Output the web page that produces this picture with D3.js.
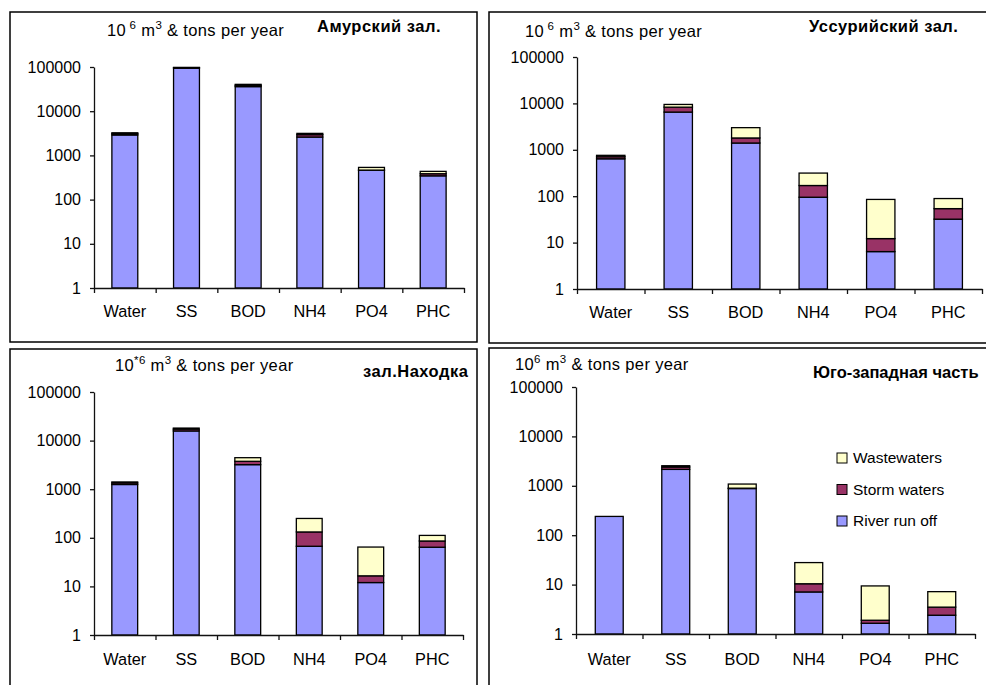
<!DOCTYPE html>
<html>
<head>
<meta charset="utf-8">
<script src="https://cdn.jsdelivr.net/npm/d3@7/dist/d3.min.js"></script>
<style>
  html, body { margin: 0; padding: 0; background: #fff; }
  svg { display: block; font-family: "Liberation Sans", Arial, sans-serif; }
</style>
</head>
<body>
<svg id="chart" width="986" height="685"></svg>
<script>
// Pollutant load categories and log-axis ticks
const categories = ["Water", "SS", "BOD", "NH4", "PO4", "PHC"];
const seriesNames = ["River run off", "Storm waters", "Wastewaters"];
const yTicks = [1, 10, 100, 1000, 10000, 100000];
const legendOrder = ["Wastewaters", "Storm waters", "River run off"];

// Амурский залив
const amurRiver = [2900, 94000, 36000, 2600, 460, 345];
const amurStorm = [200, 2500, 2500, 350, 5, 40];
const amurWaste = [150, 1500, 2000, 200, 70, 50];

// Уссурийский залив
const ussuriRiver = [640, 6500, 1400, 95, 6.4, 32];
const ussuriStorm = [70, 1800, 400, 75, 5.8, 22];
const ussuriWaste = [50, 1200, 1200, 145, 73, 35];

// залив Находка
const nakhodkaRiver = [1250, 15800, 3200, 67, 12, 64];
const nakhodkaStorm = [100, 1400, 550, 65, 4.5, 22];
const nakhodkaWaste = [60, 900, 700, 118, 48, 26];

// Юго-западная часть
const swRiver = [240, 2150, 880, 7.1, 1.65, 2.4];
const swStorm = [0, 250, 15, 3.3, 0.25, 1.1];
const swWaste = [0, 150, 190, 17.5, 7.5, 3.7];

const colors = {
  "River run off": "#9999ff",
  "Storm waters": "#993366",
  "Wastewaters": "#ffffcc"
};

const panels = [
  { name: "Амурский зал.", unit: ["10", " 6", " m", "3", " & tons per year"],
    river: amurRiver, storm: amurStorm, waste: amurWaste,
    frame: [10, 12, 467, 330], x0: 94, x1: 464, yTop: 67, yBot: 288,
    unitPos: [107, 36], namePos: [317, 32], labelY: 317 },
  { name: "Уссурийский зал.", unit: ["10", " 6", " m", "3", " & tons per year"],
    river: ussuriRiver, storm: ussuriStorm, waste: ussuriWaste,
    frame: [489, 12, 520, 331], x0: 577, x1: 982, yTop: 57, yBot: 289,
    unitPos: [525, 37], namePos: [809, 32], labelY: 318 },
  { name: "зал.Находка", unit: ["10", "*6", " m", "3", " & tons per year"],
    river: nakhodkaRiver, storm: nakhodkaStorm, waste: nakhodkaWaste,
    frame: [10, 349, 467, 360], x0: 94, x1: 463, yTop: 392, yBot: 635,
    unitPos: [115, 371], namePos: [363, 377], labelY: 665 },
  { name: "Юго-западная часть", unit: ["10", "6", " m", "3", " & tons per year"],
    river: swRiver, storm: swStorm, waste: swWaste,
    frame: [489, 348, 520, 360], x0: 576, x1: 975, yTop: 387, yBot: 634,
    unitPos: [515, 370], namePos: [813, 378], labelY: 665, legend: [837, 453] }
];

const svg = d3.select("#chart");
const svgWidth = +svg.attr("width");

panels.forEach(p => {
  const g = svg.append("g");

  // panel frame
  g.append("rect")
    .attr("x", p.frame[0]).attr("y", p.frame[1])
    .attr("width", p.frame[2]).attr("height", p.frame[3])
    .attr("fill", "#fff").attr("stroke", "#000").attr("stroke-width", 1.5);

  const x = d3.scaleBand().domain(categories)
    .range([p.x0, p.x1]).paddingInner(0.58).paddingOuter(0.29);
  const xEdge = d3.scaleLinear().domain([0, categories.length]).range([p.x0, p.x1]);
  const y = d3.scaleLog().domain([1, 100000]).range([p.yBot, p.yTop]);

  const rows = categories.map((c, i) => ({
    category: c,
    "River run off": p.river[i],
    "Storm waters": p.storm[i],
    "Wastewaters": p.waste[i]
  }));
  const stacked = d3.stack().keys(seriesNames)(rows);

  // stacked bars
  g.append("g").selectAll("g").data(stacked).join("g")
    .attr("fill", d => colors[d.key])
    .selectAll("rect").data(d => d).join("rect")
      .attr("x", d => x(d.data.category))
      .attr("width", x.bandwidth())
      .attr("y", d => y(Math.max(1, d[1])))
      .attr("height", d => y(Math.max(1, d[0])) - y(Math.max(1, d[1])))
      .attr("stroke", "#000").attr("stroke-width", 1.3);

  // y axis
  const yAxis = g.append("g").attr("transform", `translate(${p.x0},0)`)
    .call(d3.axisLeft(y).tickValues(yTicks).tickFormat(d3.format("d"))
      .tickSize(4).tickSizeOuter(0).tickPadding(9));
  yAxis.selectAll("text").attr("font-size", 16).attr("fill", "#000")
    .attr("font-family", "Liberation Sans, Arial, sans-serif");
  yAxis.selectAll("line, path").attr("stroke", "#111").attr("stroke-width", 1.3);

  // x axis: ticks on category boundaries
  const xAxis = g.append("g").attr("transform", `translate(0,${p.yBot})`)
    .call(d3.axisBottom(xEdge).tickValues(d3.range(categories.length + 1))
      .tickFormat("").tickSize(5).tickSizeOuter(0));
  xAxis.selectAll("line, path").attr("stroke", "#111").attr("stroke-width", 1.3);

  // category labels
  g.append("g").selectAll("text").data(categories).join("text")
    .attr("x", d => x(d) + x.bandwidth() / 2)
    .attr("y", p.labelY)
    .attr("text-anchor", "middle")
    .attr("font-size", 16.3)
    .text(d => d);

  // unit caption with superscripts
  const u = g.append("text")
    .attr("x", p.unitPos[0]).attr("y", p.unitPos[1])
    .attr("font-size", 16.5).attr("letter-spacing", 0.35);
  u.append("tspan").text(p.unit[0]);
  u.append("tspan").attr("dy", -7).attr("font-size", 11.5)
    .attr("xml:space", "preserve").text(p.unit[1]);
  u.append("tspan").attr("dy", 7).attr("xml:space", "preserve").text(p.unit[2]);
  u.append("tspan").attr("dy", -7).attr("font-size", 11.5).text(p.unit[3]);
  u.append("tspan").attr("dy", 7).attr("xml:space", "preserve").text(p.unit[4]);

  // region name, tightened if it would run past the right edge
  const nm = g.append("text")
    .attr("x", p.namePos[0]).attr("y", p.namePos[1])
    .attr("font-size", 16.5).attr("font-weight", "bold")
    .attr("letter-spacing", 0.5)
    .text(p.name);
  const room = svgWidth - 2 - p.namePos[0];
  if (nm.node().getComputedTextLength() > room) {
    nm.attr("letter-spacing", 0);
    if (nm.node().getComputedTextLength() > room) {
      nm.attr("textLength", room).attr("lengthAdjust", "spacingAndGlyphs");
    }
  }

  // legend
  if (p.legend) {
    const lg = g.append("g").attr("transform", `translate(${p.legend[0]},${p.legend[1]})`);
    const items = lg.selectAll("g").data(legendOrder).join("g")
      .attr("transform", (d, i) => `translate(0,${i * 31.5})`);
    items.append("rect")
      .attr("width", 10).attr("height", 10)
      .attr("fill", d => colors[d]).attr("stroke", "#000").attr("stroke-width", 1);
    items.append("text")
      .attr("x", 16).attr("y", 10)
      .attr("font-size", 15.5)
      .text(d => d);
  }
});
</script>
</body>
</html>
